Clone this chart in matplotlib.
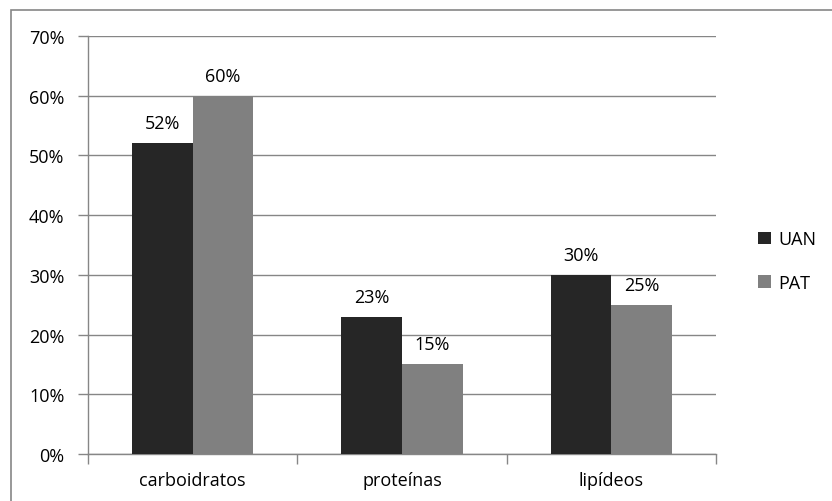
import matplotlib.pyplot as plt
import numpy as np
from matplotlib.patches import Rectangle
from matplotlib.ticker import PercentFormatter

# Data
categories = ['carboidratos', 'proteínas', 'lipídeos']
uan_values = [52, 23, 30]
pat_values = [60, 15, 25]
series_names = ['UAN', 'PAT']
y_ticks = [0, 10, 20, 30, 40, 50, 60, 70]

plt.rcParams['font.family'] = ['Open Sans', 'DejaVu Sans']
FS = 13

def plot_macros():
    fig = plt.figure(figsize=(8.32, 5.02), dpi=100)
    ax = fig.add_axes([88 / 832, 47 / 502, 628 / 832, 418 / 502])

    # outer chart frame
    fig.patches.append(Rectangle((11 / 832, -0.1), 1.2, 1.1 - 11 / 502,
                                 transform=fig.transFigure, fill=False,
                                 edgecolor='#868686', linewidth=1.2))

    x = np.arange(len(categories))
    width = 0.29
    grid_color = '#868686'

    ax.bar(x - width / 2, uan_values, width, color='#262626', label=series_names[0], zorder=3)
    ax.bar(x + width / 2, pat_values, width, color='#808080', label=series_names[1], zorder=3)

    for xi, v in zip(x - width / 2, uan_values):
        ax.annotate(f'{v}%', (xi, v), xytext=(0, 8), textcoords='offset points',
                    ha='center', va='bottom', fontsize=FS)
    for xi, v in zip(x + width / 2, pat_values):
        ax.annotate(f'{v}%', (xi, v), xytext=(0, 8), textcoords='offset points',
                    ha='center', va='bottom', fontsize=FS)

    ax.set_xlim(-0.5, len(categories) - 0.5)
    ax.set_ylim(0, 70)
    ax.set_yticks(y_ticks)
    ax.yaxis.set_major_formatter(PercentFormatter(decimals=0))
    ax.yaxis.grid(True, color=grid_color, linewidth=1.0, zorder=0)

    ax.set_xticks(x)
    ax.set_xticklabels(categories, fontsize=FS)
    ax.set_xticks(np.arange(len(categories) + 1) - 0.5, minor=True)
    ax.tick_params(axis='x', which='major', length=0, pad=12)
    ax.tick_params(axis='x', which='minor', length=7, width=1, color=grid_color, direction='out')
    ax.tick_params(axis='y', length=7, width=1, color=grid_color, labelsize=FS, pad=10)

    for side in ['top', 'right']:
        ax.spines[side].set_visible(False)
    for side in ['left', 'bottom']:
        ax.spines[side].set_color(grid_color)
        ax.spines[side].set_linewidth(1.0)

    fig.legend(loc='center left', bbox_to_anchor=(742 / 832, 240 / 502), frameon=False,
               fontsize=FS, handlelength=0.7, handleheight=0.7, labelspacing=1.4,
               handletextpad=0.4)

    fig.savefig('out.png', dpi=100)

if __name__ == "__main__":
    plot_macros()
